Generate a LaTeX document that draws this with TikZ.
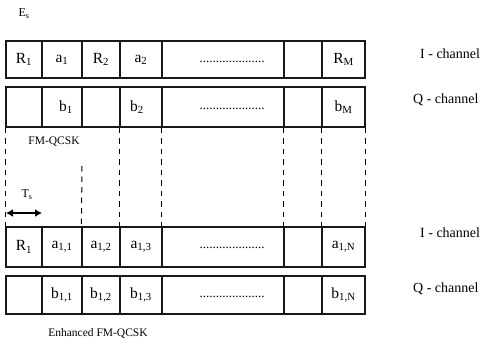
\documentclass[tikz,border=0pt]{standalone}
\usepackage{fontspec}
\setmainfont{Liberation Serif}
\usetikzlibrary{arrows.meta}
\begin{document}
\begin{tikzpicture}[x=1pt,y=-1pt,
  cell/.style={draw=black!90, line width=1.2pt, rectangle, inner sep=0pt,
               font=\fontsize{15.5}{16}\selectfont},
  rowI/.style={cell, minimum height=37pt},
  rowQ/.style={cell, minimum height=40pt},
  rowIe/.style={cell, minimum height=40pt},
  rowQe/.style={cell, minimum height=38pt},
  w0/.style={minimum width=36pt},
  w1/.style={minimum width=40pt},
  w2/.style={minimum width=38pt},
  w3/.style={minimum width=42pt},
  w4/.style={minimum width=122pt},
  w5/.style={minimum width=38pt},
  w6/.style={minimum width=43pt},
  lbl/.style={font=\fontsize{14}{14}\selectfont, inner sep=0pt},
  captxt/.style={font=\fontsize{11.5}{12}\selectfont, inner sep=0pt},
  fillerdots/.style={font=\fontsize{13}{13}\selectfont, inner sep=0pt},
  guide/.style={draw=black, line width=1pt, dash pattern=on 5.5pt off 5pt},
  periodarrow/.style={line width=1.6pt, {Latex[length=7pt,width=8pt]}-{Latex[length=7pt,width=8pt]}}]
\useasboundingbox (0,0) rectangle (481,343);

\node[captxt, font=\fontsize{12}{12}\selectfont] (es) at (24,14) {E\textsubscript{s}};

% FM-QCSK: I channel
\node[rowI,w0] (a0) at (24,59.5) {R\textsubscript{1}};
\node[rowI,w1] (a1) at (62,59.5) {a\textsubscript{1}};
\node[rowI,w2] (a2) at (101,59.5) {R\textsubscript{2}};
\node[rowI,w3] (a3) at (141,59.5) {a\textsubscript{2}};
\node[rowI,w4] (a4) at (223,59.5) {};
\node[rowI,w5] (a5) at (303,59.5) {};
\node[rowI,w6] (a6) at (343.5,59.5) {R\textsubscript{M}};
% FM-QCSK: Q channel
\node[rowQ,w0] (b0) at (24,107) {};
\node[rowQ,w1] (b1) at (62,107) {\hspace*{8pt}b\textsubscript{1}};
\node[rowQ,w2] (b2) at (101,107) {};
\node[rowQ,w3] (b3) at (141,107) {b\textsubscript{2}\hspace*{8pt}};
\node[rowQ,w4] (b4) at (223,107) {};
\node[rowQ,w5] (b5) at (303,107) {};
\node[rowQ,w6] (b6) at (343.5,107) {b\textsubscript{M}};

% Enhanced FM-QCSK: I channel
\node[rowIe,w0] (c0) at (24,247) {R\textsubscript{1}};
\node[rowIe,w1] (c1) at (62,247) {a\textsubscript{1,1}};
\node[rowIe,w2] (c2) at (101,247) {a\textsubscript{1,2}};
\node[rowIe,w3] (c3) at (141,247) {a\textsubscript{1,3}};
\node[rowIe,w4] (c4) at (223,247) {};
\node[rowIe,w5] (c5) at (303,247) {};
\node[rowIe,w6] (c6) at (343.5,247) {a\textsubscript{1,N}};
% Enhanced FM-QCSK: Q channel
\node[rowQe,w0] (d0) at (24,295) {};
\node[rowQe,w1] (d1) at (62,295) {b\textsubscript{1,1}};
\node[rowQe,w2] (d2) at (101,295) {b\textsubscript{1,2}};
\node[rowQe,w3] (d3) at (141,295) {b\textsubscript{1,3}};
\node[rowQe,w4] (d4) at (223,295) {};
\node[rowQe,w5] (d5) at (303,295) {};
\node[rowQe,w6] (d6) at (343.5,295) {b\textsubscript{1,N}};

% dotted fillers
\node[fillerdots] (fa) at (232,62) {....................};
\node[fillerdots] (fb) at (232,109) {....................};
\node[fillerdots] (fc) at (232,248) {....................};
\node[fillerdots] (fd) at (232,297) {....................};

% channel labels
\node[lbl, anchor=west] (ia) at (420,54) {I - channel};
\node[lbl, anchor=west] (qa) at (413,100) {Q - channel};
\node[lbl, anchor=west] (ic) at (420,233) {I - channel};
\node[lbl, anchor=west] (qc) at (413,289) {Q - channel};

% scheme captions
\node[captxt] (fm) at (54,142) {FM-QCSK};
\node[captxt] (efm) at (98,333) {Enhanced FM-QCSK};

% dashed slot guides
\coordinate (g2) at (82,166);
\draw[guide] (b0.south west) -- (c0.north west);
\draw[guide] (g2) -- (c2.north west);
\draw[guide] (b3.south west) -- (c3.north west);
\draw[guide] (b4.south west) -- (c4.north west);
\draw[guide] (b5.south west) -- (c5.north west);
\draw[guide] (b6.south west) -- (c6.north west);
\draw[guide] (b6.south east) -- (c6.north east);

% symbol period
\coordinate (tsl) at (6,213);
\coordinate (tsr) at (42,213);
\draw[periodarrow] (tsl) -- (tsr);
\node[captxt, font=\fontsize{12}{12}\selectfont] (ts) at (27,195) {T\textsubscript{s}};
\end{tikzpicture}
\end{document}
